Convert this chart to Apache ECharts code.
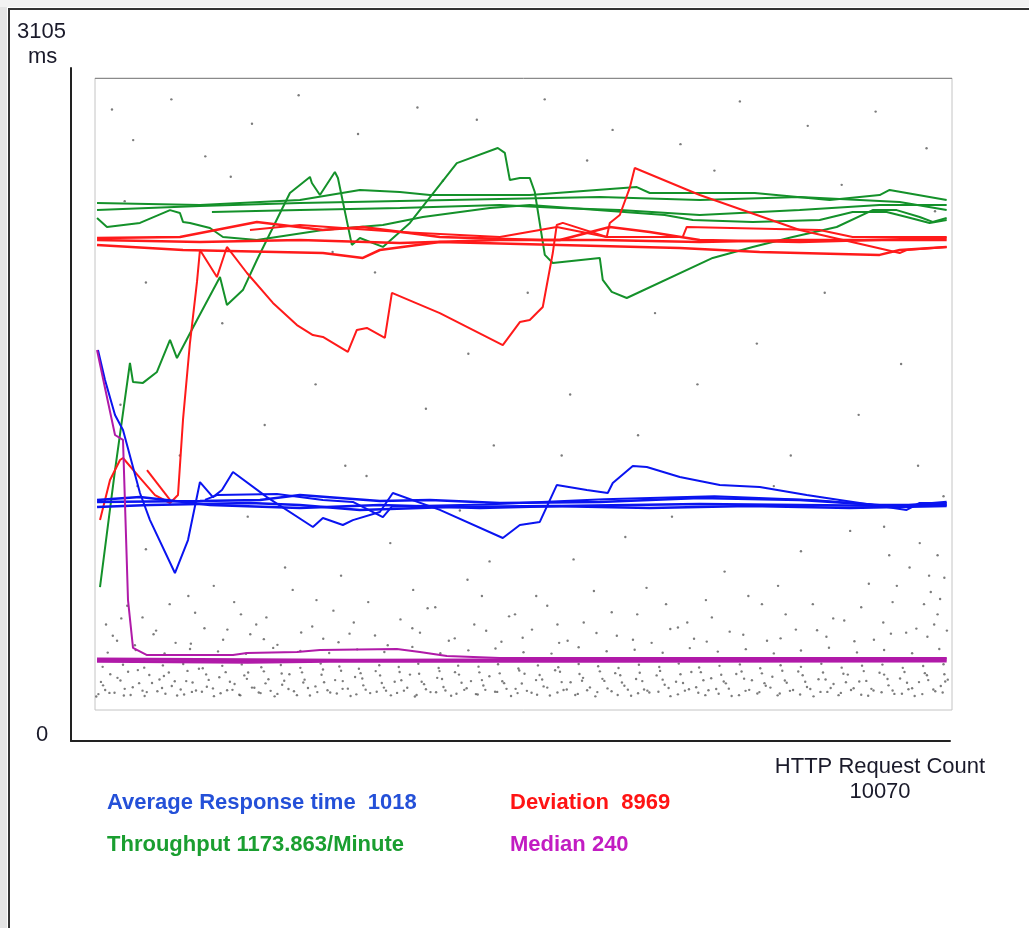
<!DOCTYPE html>
<html>
<head>
<meta charset="utf-8">
<script src="https://cdn.jsdelivr.net/npm/echarts@6/dist/echarts.min.js"></script>
<style>
html,body{margin:0;padding:0;background:#fff;}
#chart{width:1029px;height:928px;}
</style>
</head>
<body>
<div id="chart"></div>
<script>
// ---- data (x = HTTP request count, y = ms) ----
const yMax = 3105;
const xMax = 10100;
const yTopLabel = '3105';
const yUnitLabel = 'ms';
const yZeroLabel = '0';
const xTitle = 'HTTP Request Count';
const xCountLabel = '10070';
const legendAvg = 'Average Response time  1018';
const legendDev = 'Deviation  8969';
const legendTput = 'Throughput 1173.863/Minute';
const legendMedian = 'Median 240';

const avgPass1 = [[35,1769],[118,1621],[236,1449],[330,1376],[530,1066],[648,933],[942,673],[1096,835],[1237,1120],[1390,1046],[1496,1081],[1626,1169],[2026,1046],[2568,899],[2686,943],[2921,909],[3039,933],[3357,973],[3510,1066],[4064,983],[4806,845],[5007,909],[5242,924],[5442,1105],[5796,1081],[6043,1066],[6102,1115],[6338,1199],[6503,1194],[6892,1145],[7363,1105],[7834,1096],[8387,1056],[8776,1032],[9330,997],[9565,983],[9719,1017],[10037,1017]];
const avgPass2 = [[24,1022],[1237,1027],[1944,1032],[2415,1056],[2886,1042],[3357,1027],[3946,1032],[4771,1017],[5949,1022],[7127,1042],[8305,1032],[9247,1007],[10037,1007]];
const avgPass3 = [[24,997],[648,1007],[1826,1017],[2415,1007],[3122,983],[4182,997],[5360,1002],[6538,992],[7716,1002],[8894,992],[10037,1002]];
const avgPass4 = [[24,1032],[530,1046],[1355,1007],[2415,992],[3357,1007],[4535,992],[5478,1002],[7127,1012],[9483,1002],[10037,1022]];
const avgPass5 = [[1296,1032],[1437,1056],[2144,1061],[2686,1032],[3039,1022],[3393,948],[3500,1000],[4600,1010],[6000,1035],[7300,1050],[8500,1030],[9400,1000],[10037,1010]];

const devPass1 = [[59,933],[177,1130],[295,1228],[330,1238],[530,1140],[707,1056],[884,1017],[978,1056],[1037,1425],[1119,1803],[1202,2103],[1237,2260],[1437,2127],[1496,2201],[1555,2275],[1791,2147],[2097,2000],[2380,1891],[2568,1842],[2686,1833],[2980,1759],[3086,1867],[3204,1877],[3416,1828],[3499,2049],[4064,1950],[4806,1793],[5007,1906],[5124,1916],[5277,1980],[5395,2245],[5442,2383],[5513,2393],[6031,2324],[6067,2393],[6185,2432],[6302,2565],[6361,2663],[7127,2530],[8305,2358],[9483,2245],[9565,2260],[10037,2275]];
const devPass2 = [[613,1179],[884,1032]];
const devPass3 = [[24,2319],[1001,2324],[1908,2398],[2686,2358],[3157,2373],[4064,2324],[5242,2309],[5949,2309],[7127,2299],[8305,2309],[9483,2309],[10037,2309]];
const devPass4 = [[24,2285],[1037,2260],[2686,2245],[3157,2221],[3357,2260],[4064,2299],[5478,2285],[6892,2270],[7834,2250],[9247,2236],[9483,2260],[10037,2275]];
const devPass5 = [[24,2309],[1237,2299],[2415,2309],[3593,2294],[4771,2309],[5478,2309],[6067,2373],[6538,2348],[7127,2309],[8305,2299],[10037,2319]];
const devPass6 = [[1826,2358],[2415,2383],[3593,2348],[4771,2324],[5442,2373],[6031,2324],[6927,2324],[6974,2373],[8540,2358],[8929,2324],[10037,2324]];

const tputPass1 = [[59,604],[236,1179],[412,1705],[448,1611],[565,1607],[730,1661],[884,1818],[966,1729],[1202,1916],[1473,2127],[1555,1990],[1743,2063],[1908,2211],[2297,2540],[2533,2619],[2556,2589],[2651,2530],[2827,2643],[2863,2614],[3027,2285],[3122,2319],[3393,2275],[3711,2393],[4264,2687],[4747,2761],[4830,2737],[4889,2604],[5007,2614],[5124,2614],[5183,2545],[5301,2236],[5395,2196],[5949,2221],[5984,2113],[6090,2054],[6267,2024],[7280,2221],[7751,2275],[8222,2324],[8741,2373],[9165,2456],[9448,2456],[9719,2422],[9872,2398],[10037,2417]];
const tputPass2 = [[24,2491],[1237,2481],[2415,2506],[3122,2555],[3593,2545],[3946,2530],[5124,2530],[6385,2569],[6538,2540],[7775,2540],[8658,2506],[9247,2530],[9365,2555],[10037,2506]];
const tputPass3 = [[24,2456],[1237,2476],[2415,2491],[3593,2501],[4771,2511],[5949,2520],[7127,2506],[8305,2520],[9483,2496],[10037,2456]];
const tputPass4 = [[1378,2447],[2415,2456],[3593,2466],[4771,2481],[5478,2466],[6185,2456],[7127,2432],[8305,2456],[9247,2481],[10037,2481]];
const tputPass5 = [[24,2417],[141,2373],[530,2393],[884,2456],[1001,2442],[1037,2398],[1119,2393],[1355,2368],[1508,2324],[1908,2309],[2686,2358],[3393,2383],[3864,2422],[4653,2466],[5124,2481],[6715,2432],[7044,2407],[7751,2398],[8540,2407],[8929,2447],[9330,2447],[9565,2422],[9836,2393],[10037,2407]];

const medianPass1 = [[24,1769],[118,1582],[236,1351],[330,1327],[389,540],[448,305],[613,270],[1626,270],[1791,280],[2380,285],[2651,295],[3558,300],[3829,285],[4147,265],[4771,255],[10037,255]];
const medianPass2 = [[24,250],[3000,245],[10037,250]];
const medianPass3 = [[24,240],[1800,235],[3000,241],[6000,240],[10037,241]];

const sampleDots = [
[40,78],[230,85],[420,74],[610,88],[830,80],[1050,76],[1260,90],[1480,82],[1700,75],[1930,86],[2150,79],[2380,73],[2620,88],[2850,81],[3080,77],[3320,90],[3560,84],[3790,74],[4020,87],[4260,80],[4510,76],[4740,89],[4980,83],[5210,75],[5450,86],[5690,79],[5920,88],[6160,74],[6400,82],[6640,90],[6870,77],[7110,85],[7350,80],[7590,73],[7830,88],[8070,81],[8310,76],[8550,89],[8790,84],[9030,75],[9270,87],[9510,80],[9750,78],[9990,86],
[120,98],[350,104],[560,95],[790,108],[1010,101],[1190,96],[1390,106],[1620,99],[1850,110],[2070,94],[2280,103],[2510,108],[2740,97],[2980,105],[3190,100],[3430,95],[3680,109],[3900,102],[4130,96],[4380,107],[4600,99],[4850,104],[5090,94],[5330,110],[5560,101],[5800,97],[6040,106],[6280,100],[6510,95],[6760,108],[7000,102],[7230,97],[7470,105],[7710,99],[7960,110],[8190,94],[8430,103],[8670,108],[8910,98],[9150,104],[9400,96],[9630,107],[9880,101],
[70,138],[300,145],[520,132],[760,150],[940,141],[1150,135],[1340,148],[1590,139],[1790,153],[2010,131],[2230,144],[2470,149],[2700,136],[2920,142],[3150,155],[3380,133],[3610,146],[3850,139],[4090,152],[4320,134],[4560,147],[4800,141],[5030,130],[5270,150],[5500,137],[5740,144],[5980,153],[6210,135],[6450,142],[6690,149],[6930,133],[7170,146],[7410,140],[7650,154],[7890,132],[8130,145],[8370,139],[8610,150],[8850,136],[9090,143],[9340,152],[9570,134],[9820,147],[10020,140],
[180,176],[390,188],[640,172],[870,184],[1090,192],[1310,175],[1540,186],[1760,170],[1990,190],[2200,179],[2440,185],[2670,173],[2900,193],[3130,181],[3360,170],[3590,187],[3820,178],[4060,191],[4290,174],[4530,185],[4770,180],[5000,194],[5240,172],[5480,188],[5710,177],[5950,190],[6190,171],[6420,183],[6660,192],[6900,176],[7140,186],[7380,173],[7620,189],[7860,180],[8100,193],[8340,171],[8580,184],[8820,178],[9060,191],[9300,174],[9540,187],[9780,181],[10010,176],
[90,212],[330,222],[580,208],[800,219],[1040,226],[1270,205],[1500,217],[1730,224],[1960,210],[2190,221],[2420,207],[2660,228],[2880,214],[3110,203],[3350,220],[3580,211],[3810,227],[4050,206],[4280,218],[4520,213],[4750,225],[4990,204],[5220,219],[5460,210],[5700,226],[5930,215],[6170,206],[6410,222],[6650,211],[6880,228],[7120,209],[7360,217],[7600,224],[7840,205],[8080,220],[8320,212],[8560,227],[8800,208],[9040,218],[9280,223],[9520,207],[9760,216],[10000,225],
[150,282],[480,295],[820,278],[1120,300],[1450,288],[1780,276],[2100,305],[2420,290],[2760,280],[3090,298],[3410,285],[3740,310],[4070,279],[4400,293],[4720,302],[5050,284],[5380,277],[5700,308],[6030,289],[6360,296],[6690,281],[7010,304],[7340,287],[7670,299],[8000,278],[8320,292],[8650,306],[8980,283],[9300,295],[9630,279],[9950,300],
[260,340],[690,372],[1130,326],[1560,395],[1990,348],[2430,381],[2870,333],[3300,366],[3740,402],[4170,340],[4610,389],[5040,355],[5470,330],[5910,378],[6340,345],[6780,398],[7210,336],[7640,370],[8080,352],[8510,392],[8950,338],[9380,375],[9810,360],
[310,450],[880,520],[1400,610],[1720,470],[2240,700],[2610,540],[3050,430],[3480,820],[3920,500],[4390,640],[4880,460],[5200,560],[5640,740],[6090,480],[6500,600],[6980,430],[7420,680],[7860,520],[8320,780],[8700,450],[9120,620],[9400,530],[9600,700],[9720,820],[9850,580],[9930,470],[10010,650],[9680,400],[9360,760],[8900,880],[8050,610],[7200,540],[6250,850],[5450,420],[4650,730],[3750,590],[2900,660],[1900,420],[1100,560],[600,790],
[200,2950],[450,2800],[900,3000],[1300,2720],[1850,2880],[2400,3020],[3100,2830],[3800,2960],[4500,2900],[5300,3000],[6100,2850],[6900,2780],[7600,2990],[8400,2870],[9200,2940],[9800,2760],[350,2500],[1600,2620],[2800,2250],[4100,2600],[5800,2700],[7300,2650],[8800,2580],[9900,2450],[600,2100],[1500,1900],[2600,1600],[3300,2150],[4400,1750],[5100,2050],[6600,1950],[7800,1800],[8600,2050],[9500,1700],[300,1500],[1000,1250],[2000,1400],[2950,1200],[3900,1480],[4700,1300],[5600,1550],[6400,1350],[7100,1600],[8200,1250],[9000,1450],[9700,1200],[500,1100],[1800,950],[3200,1150],[4300,980],[5500,1250],[6800,950],[8000,1100],[9300,900],[10000,1050]
];
const sampleDotsLow = [
[15,66],[95,121],[170,84],[265,158],[340,71],[445,112],[505,196],[585,69],[672,133],[735,92],[812,167],[905,118],[968,71],[1075,142],[1142,89],[1225,203],[1318,114],[1402,68],[1465,161],[1557,97],[1645,128],[1712,72],[1805,184],[1878,109],[1952,83],[2044,151],[2117,67],[2206,124],[2291,176],[2345,92],[2455,135],[2533,71],[2598,116],[2687,199],[2772,86],[2830,147],[2918,104],[3012,69],[3065,162],[3162,121],[3243,83],[3308,191],[3405,110],[3487,72],[3532,139],[3641,95],[3712,174],[3770,66],[3878,127],[3954,88],[4033,158],[4107,113],[4197,70],[4243,186],[4352,99],[4431,142],[4489,78],[4577,120],[4648,166],[4715,90],[4822,132],[4903,69],[4957,104],[5062,178],[5145,85],[5198,147],[5287,116],[5361,71],[5423,195],[5522,98],[5605,136],[5660,74],[5752,158],[5833,111],[5897,67],[6003,143],[6088,92],[6131,181],[6239,119],[6318,70],[6377,152],[6471,101],[6533,86],[6619,170],[6714,124],[6782,68],[6848,139],[6952,95],[7028,187],[7085,112],[7193,73],[7262,156],[7321,103],[7435,131],[7503,69],[7558,177],[7667,94],[7742,146],[7806,81],[7905,119],[7983,163],[8045,72],[8152,134],[8227,98],[8288,189],[8391,113],[8468,67],[8527,151],[8631,89],[8704,128],[8763,73],[8872,174],[8941,107],[9007,140],[9112,70],[9175,96],[9246,183],[9352,121],[9421,79],[9488,155],[9587,102],[9660,69],[9711,137],[9805,171],[9903,92],[9968,118],[10050,149]
];
const sampleDotsMid = [
[130,420],[210,365],[380,512],[470,318],[560,455],[720,390],[950,330],[1180,478],[1290,402],[1510,345],[1640,530],[1830,372],[2020,455],[2150,320],[2330,590],[2560,410],[2690,350],[2810,488],[3000,375],[3220,530],[3450,318],[3600,445],[3830,380],[4010,505],[4240,352],[4470,420],[4560,560],[4790,335],[4950,470],[5150,395],[5330,512],[5570,340],[5760,430],[5880,585],[6150,365],[6390,470],[6560,330],[6730,520],[6870,405],[7060,350],[7270,455],[7480,385],[7700,560],[7920,340],[8140,470],[8260,395],[8460,520],[8620,360],[8830,440],[9030,505],[9180,345],[9290,430],[9450,610],[9560,380],[9770,520],[9830,660],[9890,420],[9960,545],[10040,390],[9930,760]
];

// ---- chart ----
const FONT = "'Liberation Sans', Arial, sans-serif";
const COL_AVG = '#0a14f0';
const COL_DEV = '#ff1a1a';
const COL_TPUT = '#14912a';
const COL_MED = '#b01aa8';

function lineSeries(data, color, width) {
  return {
    type: 'line', xAxisIndex: 0, yAxisIndex: 0, data: data,
    showSymbol: false, symbol: 'none', smooth: false,
    lineStyle: { color: color, width: width || 2 },
    silent: true, animation: false
  };
}
function dotSeries(data) {
  return { type: 'scatter', xAxisIndex: 0, yAxisIndex: 0, data: data, symbolSize: 2.4,
    itemStyle: { color: '#444', opacity: 0.7 }, silent: true, animation: false };
}

const series = [
  dotSeries(sampleDots), dotSeries(sampleDotsLow), dotSeries(sampleDotsMid),
  lineSeries(tputPass2, COL_TPUT), lineSeries(tputPass3, COL_TPUT), lineSeries(tputPass4, COL_TPUT),
  lineSeries(tputPass5, COL_TPUT), lineSeries(tputPass1, COL_TPUT),
  lineSeries(devPass3, COL_DEV, 2.5), lineSeries(devPass4, COL_DEV, 2.5), lineSeries(devPass5, COL_DEV, 2.5),
  lineSeries(devPass6, COL_DEV), lineSeries(devPass1, COL_DEV), lineSeries(devPass2, COL_DEV),
  lineSeries(avgPass2, COL_AVG, 2.5), lineSeries(avgPass3, COL_AVG, 2.5), lineSeries(avgPass4, COL_AVG, 2.5),
  lineSeries(avgPass5, COL_AVG), lineSeries(avgPass1, COL_AVG),
  lineSeries(medianPass2, COL_MED, 3), lineSeries(medianPass3, COL_MED, 3), lineSeries(medianPass1, COL_MED, 2)
];

const chart = echarts.init(document.getElementById('chart'), null, { renderer: 'canvas' });
chart.setOption({
  backgroundColor: '#ffffff',
  animation: false,
  grid: [
    { left: 95, top: 78, right: 77, bottom: 218, show: true, borderColor: '#c4c4c4', borderWidth: 1, backgroundColor: '#fff' },
    { left: 71, top: 68, right: 79, bottom: 187, show: false }
  ],
  xAxis: [
    { type: 'value', gridIndex: 0, min: 0, max: xMax, show: false },
    { type: 'value', gridIndex: 1, min: 0, max: 1, axisLine: { show: true, lineStyle: { color: '#222', width: 2 } },
      axisTick: { show: false }, axisLabel: { show: false }, splitLine: { show: false } }
  ],
  yAxis: [
    { type: 'value', gridIndex: 0, min: 0, max: yMax, show: false },
    { type: 'value', gridIndex: 1, min: 0, max: 1, axisLine: { show: true, lineStyle: { color: '#222', width: 2 } },
      axisTick: { show: false }, axisLabel: { show: false }, splitLine: { show: false } }
  ],
  series: series,
  graphic: [
    { type: 'rect', shape: { x: 0, y: 0, width: 7, height: 928 }, style: { fill: '#e4e4e4' }, silent: true },
    { type: 'rect', shape: { x: 0, y: 0, width: 1029, height: 7 }, style: { fill: '#f2f2f2' }, silent: true },
    { type: 'line', shape: { x1: 9, y1: 8, x2: 9, y2: 928 }, style: { stroke: '#333', lineWidth: 2 }, silent: true },
    { type: 'line', shape: { x1: 8, y1: 9, x2: 1029, y2: 9 }, style: { stroke: '#333', lineWidth: 2 }, silent: true },
    { type: 'line', shape: { x1: 95, y1: 78.5, x2: 952, y2: 78.5 }, style: { stroke: '#8a8a8a', lineWidth: 1 }, silent: true },
    { type: 'text', style: { text: yTopLabel, x: 17, y: 32, textVerticalAlign: 'middle', font: '22px ' + FONT, fill: '#1a1a2a' } },
    { type: 'text', style: { text: yUnitLabel, x: 28, y: 57, textVerticalAlign: 'middle', font: '22px ' + FONT, fill: '#1a1a2a' } },
    { type: 'text', style: { text: yZeroLabel, x: 42, y: 735, textAlign: 'center', textVerticalAlign: 'middle', font: '22px ' + FONT, fill: '#1a1a2a' } },
    { type: 'text', style: { text: xTitle, x: 880, y: 767, textAlign: 'center', textVerticalAlign: 'middle', font: '22px ' + FONT, fill: '#1a1a2a' } },
    { type: 'text', style: { text: xCountLabel, x: 880, y: 792, textAlign: 'center', textVerticalAlign: 'middle', font: '22px ' + FONT, fill: '#1a1a2a' } },
    { type: 'text', style: { text: legendAvg, x: 107, y: 803, textVerticalAlign: 'middle', font: 'bold 22px ' + FONT, fill: '#2450d8' } },
    { type: 'text', style: { text: legendDev, x: 510, y: 803, textVerticalAlign: 'middle', font: 'bold 22px ' + FONT, fill: '#ff1414' } },
    { type: 'text', style: { text: legendTput, x: 107, y: 845, textVerticalAlign: 'middle', font: 'bold 22px ' + FONT, fill: '#1a9e30' } },
    { type: 'text', style: { text: legendMedian, x: 510, y: 845, textVerticalAlign: 'middle', font: 'bold 22px ' + FONT, fill: '#c21cc2' } }
  ]
});
</script>
</body>
</html>
